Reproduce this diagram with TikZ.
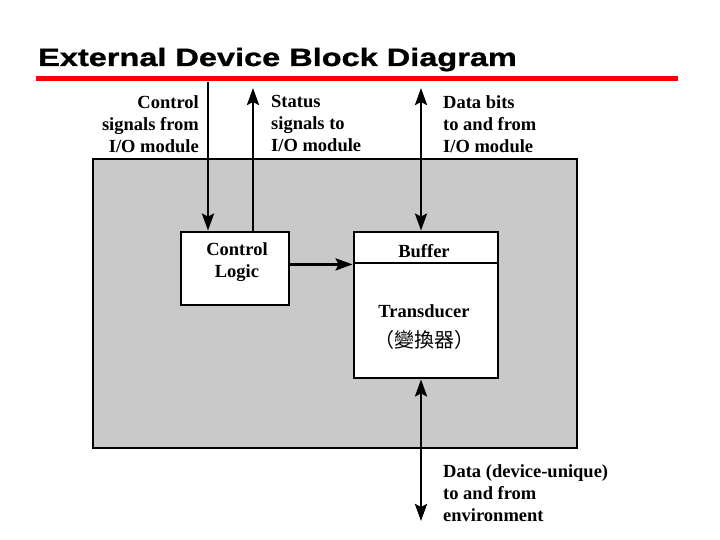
\documentclass[tikz,border=0pt]{standalone}
\usepackage{fontspec}
\setmainfont{Liberation Serif}
\newfontfamily\titlefont[FakeStretch=1.3,FakeBold=1.2]{Liberation Sans}
\newfontfamily\cjk{Noto Sans CJK TC}
\usetikzlibrary{arrows.meta,positioning,calc}
\tikzset{
  obj/.style   ={draw,line width=2.8pt,fill=white,inner sep=0pt},
  dev/.style   ={draw,line width=2.8pt,fill=black!21,inner sep=0pt},
  ar/.style    ={-{Stealth[length=17pt,width=12pt,inset=3pt]},line width=2.8pt},
  iso/.style   ={{Stealth[length=17pt,width=12pt,inset=3pt]}-{Stealth[length=17pt,width=12pt,inset=3pt]},line width=2.8pt},
  lbl/.style   ={font=\fontsize{18.5}{22}\selectfont\bfseries,inner sep=0pt},
}

\begin{document}
\begin{tikzpicture}[x=1pt,y=-1pt]
  \useasboundingbox (0,0) rectangle (720,540);
  \node[anchor=base west,inner sep=0pt,font=\titlefont\fontsize{25}{30}\selectfont\bfseries] (title) at (38,66) {External Device Block Diagram};
  \draw[red,line width=5pt] (36,79) -- (678,79);

  \node[dev,minimum width=484pt,minimum height=289pt] (box) at (335,303.5) {};
  \node[obj,minimum width=108pt,minimum height=73pt] (cl) at (235,268.5) {};
  \node[obj,minimum width=144pt,minimum height=31pt] (buf) at (426,247.5) {};
  \node[obj,minimum width=144pt,minimum height=115pt] (xd) at (426,320.5) {};

  \node[lbl,align=center] (cltxt) at (237,262) {Control\\Logic};
  \node[lbl] (buftxt) at (424,251) {Buffer};
  \node[lbl] (xdtxt) at (424,311) {Transducer};
  \node[font=\cjk\fontsize{20}{22}\selectfont,inner sep=0pt] (xdcjk) at (424,340) {（變換器）};

  \node[lbl,align=right,anchor=north east] (ctltxt) at (199,95) {Control\\signals from\\I/O module};
  \node[lbl,align=left,anchor=north west] (sttxt) at (271,95) {Status\\signals to\\I/O module};
  \node[lbl,align=left,anchor=north west] (dbtxt) at (443,95) {Data bits\\to and from\\I/O module};
  \node[lbl,align=left,anchor=north west] (envtxt) at (443,464) {Data (device-unique)\\to and from\\environment};

  \coordinate (cin) at (208,82);
  \coordinate (sout) at (253,88);
  \coordinate (dio) at (421,88);
  \coordinate (env) at (421,521);

  \draw[ar] (cin) -- (cin |- cl.north);
  \draw[ar] (sout |- cl.north) -- (sout);
  \draw[iso] (dio) -- (dio |- buf.north);
  \draw[ar] (cl.east |- buf.south) -- (buf.south west);
  \draw[iso] (env |- xd.south) -- (env);
\end{tikzpicture}
\end{document}
